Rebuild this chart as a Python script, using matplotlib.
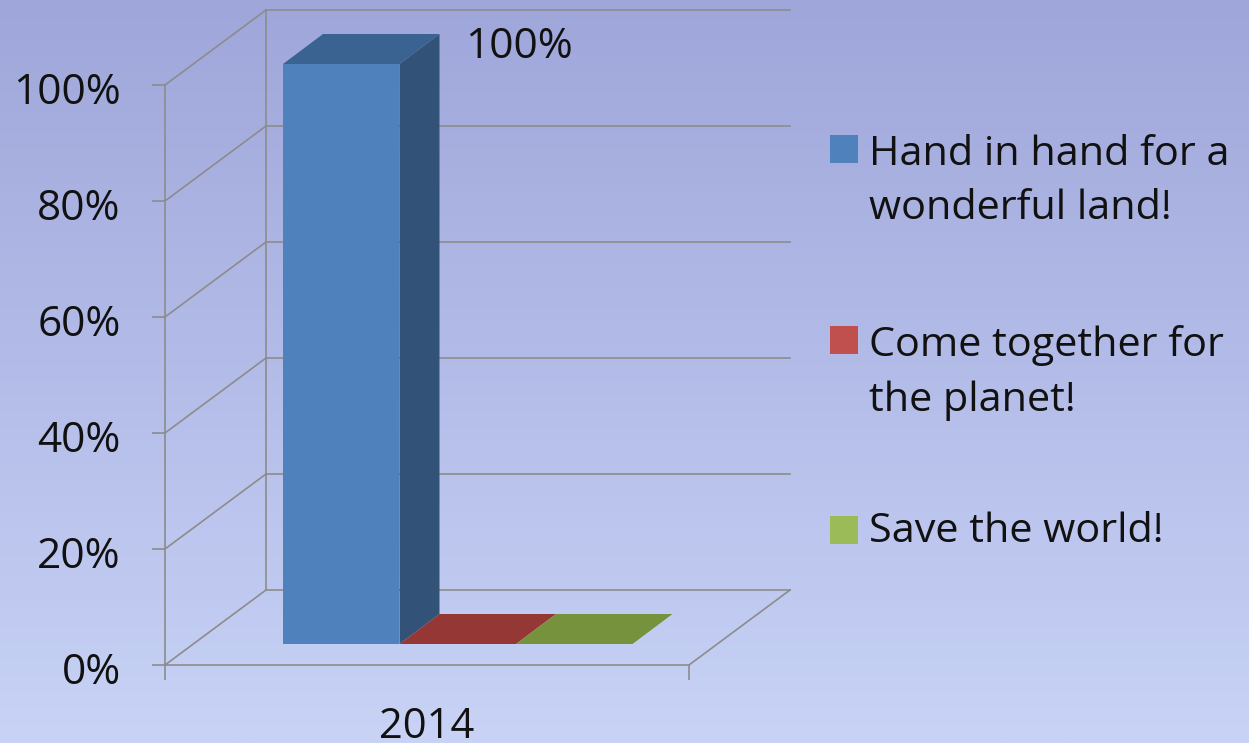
import numpy as np
import matplotlib
matplotlib.use("Agg")
import matplotlib.pyplot as plt
from matplotlib.patches import Polygon, Rectangle
from matplotlib.transforms import ScaledTranslation

plt.rcParams['font.family'] = ['Open Sans', 'DejaVu Sans']

category = "2014"
series = ["Hand in hand for a\nwonderful land!", "Come together for\nthe planet!", "Save the world!"]
values = [100, 0, 0]
yticks = [0, 20, 40, 60, 80, 100]
ylabels = ["0%", "20%", "40%", "60%", "80%", "100%"]
front = ["#4F81BD", "#C0504D", "#9BBB59"]
top = ["#3A6391", "#953735", "#76923C"]
side = ["#325278", "#7A2E2C", "#5F7830"]

W, H = 1249, 743
fig = plt.figure(figsize=(W / 100, H / 100), dpi=100)

# background gradient
bg = fig.add_axes([0, 0, 1, 1], zorder=0)
bg.axis("off")
grad = np.linspace(0, 1, 256)[:, None, None]
c0 = np.array([0x9F, 0xA6, 0xDA]) / 255
c1 = np.array([0xC8, 0xD3, 0xF6]) / 255
bg.imshow(c0 + (c1 - c0) * grad, aspect="auto", extent=[0, 1, 0, 1])

# front plane of the 3-D box: 165..689 px across, 85..665 px down
L, R, T, B = 165, 689, 85, 665
ax = fig.add_axes([L / W, 1 - B / H, (R - L) / W, (B - T) / H], zorder=1)
ax.patch.set_alpha(0)
ax.set_xlim(0, 1)
ax.set_ylim(0, 100)
ux = 1 / (R - L)   # data units per pixel
uy = 100 / (B - T)
DX, DY = 101 * ux, 75 * uy          # full floor depth
bdx, bdy = 40 * ux, 30 * uy         # bar depth
ox, oy = 28 * ux, 21 * uy           # bar offset from the front plane
GC = "#8C8C8C"

for s in ax.spines.values():
    s.set_visible(False)

kw = dict(color=GC, lw=1.2, clip_on=False, zorder=1)
for v in yticks:
    ax.plot([0, DX], [v, v + DY], **kw)
    ax.plot([DX, 1 + DX], [v + DY, v + DY], **kw)
ax.plot([0, 0], [0, 100], **kw)
ax.plot([DX, DX], [DY, 100 + DY], **kw)
ax.plot([0, 1], [0, 0], **kw)
ax.plot([1, 1 + DX], [0, DY], **kw)

ax.set_xticks([0, 1], ["", ""])
ax.set_yticks(yticks, ylabels)
ax.tick_params(axis="y", length=9.4, width=1.2, color=GC, labelsize=30.5, pad=22.5, labelcolor="#111111")
ax.tick_params(axis="x", length=11, width=1.2, color=GC)
shift = ScaledTranslation(0, -3 / 100, fig.dpi_scale_trans)
for lab in ax.get_yticklabels():
    lab.set_transform(lab.get_transform() + shift)
ax.text(0.5, -10.7, category, ha="center", va="center", fontsize=30, color="#111111", clip_on=False)

# bars
bw = 116.5 * ux
x0 = (283 - L) * ux - ox
for i, (v, f, t, sd) in enumerate(zip(values, front, top, side)):
    xa = x0 + i * bw + ox
    xb = xa + bw
    ya = oy
    yb = oy + v
    ax.add_patch(Polygon([(xb, ya), (xb + bdx, ya + bdy), (xb + bdx, yb + bdy), (xb, yb)],
                         fc=sd, ec="none", clip_on=False, zorder=2))
    ax.add_patch(Polygon([(xa, yb), (xb, yb), (xb + bdx, yb + bdy), (xa + bdx, yb + bdy)],
                         fc=t, ec="none", clip_on=False, zorder=2))
    ax.add_patch(Rectangle((xa, ya), bw, v, fc=f, ec="none", clip_on=False, zorder=3))

ax.text(x0 + ox + bw + bdx + 26 * ux, 100 + 6.5, "100%", fontsize=30.5, color="#111111",
        ha="left", va="center", clip_on=False, zorder=4)

# legend
fg = fig.add_axes([0, 0, 1, 1], zorder=2)
fg.axis("off")
fg.set_xlim(0, W)
fg.set_ylim(H, 0)
for name, col, y, tc in zip(series, front, [149, 340, 530], [182, 373, 532]):
    fg.add_patch(Rectangle((830, y - 14), 28, 28, fc=col, ec="none"))
    fg.text(869, tc, name, fontsize=29.8, color="#111111", ha="left", va="center", linespacing=1.45)

fig.savefig("out.png", dpi=100)
